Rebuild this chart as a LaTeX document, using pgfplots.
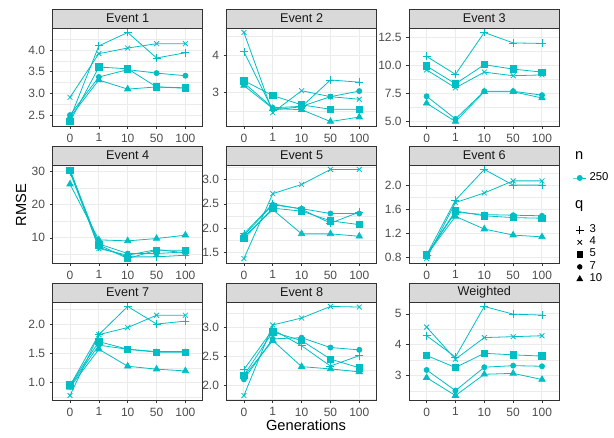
\documentclass[border=0pt]{standalone}
\usepackage{fontspec}
\setmainfont{Liberation Sans}
\usepackage{pgfplots}
\usepackage{pgfplotstable}
\pgfplotsset{compat=1.18}
\definecolor{tealc}{HTML}{00BFC4}
\definecolor{border}{HTML}{333333}
\definecolor{tickc}{HTML}{4D4D4D}
\definecolor{gridc}{HTML}{EBEBEB}
\definecolor{stripc}{HTML}{D9D9D9}

% columns: x (0=0,1=1,2=10,3=50,4=100), a=q3, b=q4, c=q5, d=q7, e=q10
\pgfplotstableread{
x a b c d e
0 2.42 2.91 2.35 2.50 2.45
1 4.10 3.92 3.61 3.38 3.31
2 4.41 4.05 3.57 3.55 3.10
3 3.82 4.15 3.15 3.47 3.15
4 3.94 4.15 3.13 3.41 3.12
}\tA
\pgfplotstableread{
x a b c d e
0 4.09 4.61 3.31 3.25 3.18
1 2.52 2.45 2.91 2.58 2.56
2 2.61 3.04 2.66 2.62 2.53
3 3.33 2.88 2.54 2.88 2.21
4 3.27 2.81 2.54 3.03 2.33
}\tB
\pgfplotstableread{
x a b c d e
0 10.80 9.60 9.94 7.25 6.63
1 9.20 8.00 8.36 5.23 5.00
2 12.93 9.40 10.06 7.70 7.65
3 12.00 9.08 9.67 7.70 7.65
4 11.95 9.15 9.40 7.35 7.10
}\tC
\pgfplotstableread{
x a b c d e
0 29.6 30.5 30.3 30.0 26.1
1 7.2 6.8 7.9 8.2 9.4
2 4.3 4.8 3.8 5.3 9.1
3 4.3 6.5 6.3 5.3 9.8
4 4.8 5.5 6.3 5.8 10.8
}\tD
\pgfplotstableread{
x a b c d e
0 1.88 1.37 1.78 1.85 1.82
1 2.50 2.71 2.41 2.48 2.38
2 2.39 2.90 2.35 2.40 1.88
3 2.10 3.21 2.15 2.30 1.88
4 2.33 3.21 2.07 2.30 1.83
}\tE
\pgfplotstableread{
x a b c d e
0 0.84 0.78 0.84 0.84 0.84
1 1.75 1.71 1.57 1.55 1.48
2 2.26 1.87 1.49 1.51 1.27
3 2.00 2.07 1.46 1.50 1.17
4 2.00 2.07 1.45 1.49 1.14
}\tF
\pgfplotstableread{
x a b c d e
0 0.95 0.78 0.96 0.94 0.92
1 1.82 1.82 1.70 1.64 1.57
2 2.30 1.94 1.57 1.57 1.28
3 2.00 2.15 1.52 1.53 1.23
4 2.05 2.15 1.52 1.53 1.20
}\tG
\pgfplotstableread{
x a b c d e
0 2.27 1.82 2.17 2.10 2.15
1 2.96 3.04 2.92 2.80 2.77
2 2.68 3.16 2.77 2.82 2.32
3 2.33 3.36 2.45 2.65 2.28
4 2.51 3.35 2.30 2.61 2.23
}\tH
\pgfplotstableread{
x a b c d e
0 4.29 4.57 3.65 3.18 2.93
1 3.60 3.53 3.26 2.51 2.35
2 5.24 4.23 3.72 3.27 3.04
3 4.99 4.26 3.67 3.32 3.07
4 4.96 4.29 3.63 3.30 2.87
}\tW

\pgfplotsset{
  panel/.style={
    scale only axis, width=112.5pt, height=73.5pt, anchor=south west,
    xmin=-0.6, xmax=4.6, xtick={0,1,2,3,4}, xticklabels={0,1,10,50,100},
    enlarge y limits=0.05,
    axis line style={border, line width=0.6pt},
    tick style={border, line width=0.5pt},
    tick align=outside, major tick length=2.2pt, minor tick length=0pt,
    tick pos=left,
    grid=both,
    major grid style={gridc, line width=0.75pt},
    minor grid style={gridc, line width=0.4pt},
    ticklabel style={font=\fontsize{9}{10}\selectfont, text=tickc},
    /pgf/number format/assume math mode=true,
    clip=false,
    legend image code/.code={\draw[opacity=0] (0pt,0pt) -- (10pt,0pt);\draw[mark repeat=2,mark phase=2,##1] plot coordinates {(0pt,0pt) (5pt,0pt) (10pt,0pt)};},
    legend style={anchor=north west, draw=none, fill=none,
      font=\fontsize{8.5}{10}\selectfont, text=black, row sep=0pt,
      nodes={inner xsep=2pt, inner ysep=0pt, text height=6.3pt, text depth=2.9pt}},
    legend cell align=left,
  },
  oned/.style={yticklabel style={/pgf/number format/.cd, fixed, fixed zerofill, precision=1}},
  zerod/.style={yticklabel style={/pgf/number format/.cd, fixed, precision=0}},
  sbase/.style={tealc, line width=0.6pt, mark options={solid}},
  s3/.style={sbase, mark=+, mark size=3pt},
  s4/.style={sbase, mark=x, mark size=2.6pt},
  s5/.style={sbase, mark=square*, mark size=2.4pt, mark options={fill=tealc}},
  s7/.style={sbase, mark=*, mark size=1.9pt, mark options={fill=tealc}},
  s10/.style={sbase, mark=triangle*, mark size=2.7pt, mark options={fill=tealc}},
}

% #1 title, #2 x, #3 y (in px units), #4 table, #5 ytick, #6 minor ytick, #7 extra options, #8 extra body
\newcommand{\panel}[8]{%
  \pgfmathsetlengthmacro{\px}{#2*0.75pt}%
  \pgfmathsetlengthmacro{\py}{#3*0.75pt}%
  \begin{axis}[panel, at={(\px,\py)}, ytick={#5}, minor ytick={#6}, #7]
    \addplot[s3, forget plot] table[x=x, y=a] {#4};
    \addplot[s4, forget plot] table[x=x, y=b] {#4};
    \addplot[s5, forget plot] table[x=x, y=c] {#4};
    \addplot[s7, forget plot] table[x=x, y=d] {#4};
    \addplot[s10, forget plot] table[x=x, y=e] {#4};
    #8
  \end{axis}
  \draw[fill=stripc, draw=border, line width=0.6pt] (#2,{#3+98}) rectangle ({#2+150},{#3+117});
  \node[font=\fontsize{9.5}{10}\selectfont, text={black!90}] at ({#2+75},{#3+107.5}) {#1};
}

\begin{document}
\begin{tikzpicture}[x=0.75pt, y=0.75pt]
\path[use as bounding box] (0,0) rectangle (614,437);

\panel{Event 1}{52.7}{311}{\tA}{2.5,3,3.5,4}{2.25,2.75,3.25,3.75,4.25}{oned}{}
\panel{Event 2}{226.6}{311}{\tB}{3,4}{2.5,3.5,4.5}{zerod}{}
\panel{Event 3}{409.3}{311}{\tC}{5,7.5,10,12.5}{6.25,8.75,11.25}{oned, legend style={at={(1.061,-0.438)}}}{%
  \addlegendimage{tealc, line width=0.6pt, mark=*, mark size=1.9pt}
  \addlegendentry{250}}
\panel{Event 4}{52.7}{174}{\tD}{10,20,30}{5,15,25}{zerod}{}
\panel{Event 5}{226.6}{174}{\tE}{1.5,2,2.5,3}{1.75,2.25,2.75,3.25}{oned}{}
\panel{Event 6}{409.3}{174}{\tF}{0.8,1.2,1.6,2.0}{1.0,1.4,1.8,2.2}{oned, legend style={at={(1.061,0.4286)}}}{%
  \addlegendimage{only marks, black, mark=+, mark size=2.8pt, line width=0.6pt}
  \addlegendentry{3}
  \addlegendimage{only marks, black, mark=x, mark size=2.4pt, line width=0.6pt}
  \addlegendentry{4}
  \addlegendimage{only marks, black, mark=square*, mark size=2.2pt}
  \addlegendentry{5}
  \addlegendimage{only marks, black, mark=*, mark size=1.8pt}
  \addlegendentry{7}
  \addlegendimage{only marks, black, mark=triangle*, mark size=2.6pt}
  \addlegendentry{10}}
\panel{Event 7}{52.7}{37}{\tG}{1,1.5,2}{0.75,1.25,1.75,2.25}{oned}{}
\panel{Event 8}{226.6}{37}{\tH}{2,2.5,3}{1.75,2.25,2.75,3.25}{oned}{}
\panel{Weighted}{409.3}{37}{\tW}{3,4,5}{2.5,3.5,4.5}{zerod}{}

\node[font=\fontsize{11}{12}\selectfont] at (306,12) {Generations};
\node[font=\fontsize{11}{12}\selectfont, rotate=90] at (21,232) {RMSE};
\node[font=\fontsize{11}{12}\selectfont, anchor=base west] at (570.5,277.7) {n};
\node[font=\fontsize{11}{12}\selectfont, anchor=base west] at (570.5,228.7) {q};
\end{tikzpicture}
\end{document}
